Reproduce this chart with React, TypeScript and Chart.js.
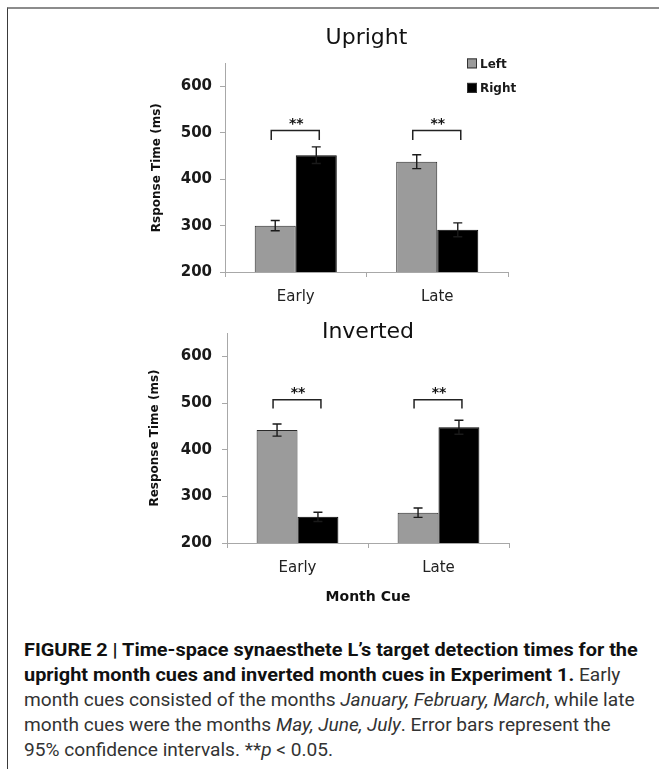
import React, { useEffect, useRef } from 'react';
import { Chart, registerables } from 'chart.js';

Chart.register(...registerables);

// ---------- data ----------
const categories = ['Early', 'Late'];
const seriesNames = ['Left', 'Right'];
const yTickValues = [200, 300, 400, 500, 600];
const yMin = 200;
const yMax = 650;
const sigMarks = ['**', '**'];

const uprightLeft = [300, 438];
const uprightRight = [452, 291];
const uprightLeftCI = [11, 15];
const uprightRightCI = [18, 15];
const uprightBracket = [505, 485]; // bracket bar level, leg end level

const invertedLeft = [442, 265];
const invertedRight = [256, 448];
const invertedLeftCI = [13, 10];
const invertedRightCI = [10, 15];
const invertedBracket = [507, 488];

const FONT = "'DejaVu Sans', Verdana, sans-serif";
const LEFT_COLOR = '#9b9b9b';
const RIGHT_COLOR = '#000000';

const overlayPlugin = {
  id: 'overlay',
  afterDatasetsDraw(chart: any, _args: any, opts: any) {
    const { ctx, chartArea } = chart;
    const ys = chart.scales.y;
    ctx.save();
    // error bars
    chart.data.datasets.forEach((ds: any, di: number) => {
      const meta = chart.getDatasetMeta(di);
      const errs = opts.errors[di];
      meta.data.forEach((bar: any, i: number) => {
        const v = ds.data[i];
        const e = errs[i];
        const x = bar.x;
        const yT = ys.getPixelForValue(v + e);
        const yB = ys.getPixelForValue(v - e);
        ctx.strokeStyle = '#1a1a1a';
        ctx.lineWidth = 1.4;
        ctx.beginPath();
        ctx.moveTo(x, yT);
        ctx.lineTo(x, yB);
        ctx.moveTo(x - 4.5, yT);
        ctx.lineTo(x + 4.5, yT);
        ctx.moveTo(x - 4.5, yB);
        ctx.lineTo(x + 4.5, yB);
        ctx.stroke();
      });
    });
    // significance brackets
    const m0 = chart.getDatasetMeta(0);
    const m1 = chart.getDatasetMeta(1);
    categories.forEach((_c, i) => {
      const x0 = m0.data[i].x - 4;
      const x1 = m1.data[i].x + 3;
      const yTop = ys.getPixelForValue(opts.bracket[0]);
      const yLeg = ys.getPixelForValue(opts.bracket[1]);
      ctx.strokeStyle = '#222';
      ctx.lineWidth = 1.5;
      ctx.beginPath();
      ctx.moveTo(x0, yLeg);
      ctx.lineTo(x0, yTop);
      ctx.lineTo(x1, yTop);
      ctx.lineTo(x1, yLeg);
      ctx.stroke();
      ctx.fillStyle = '#111';
      ctx.font = `bold 14px ${FONT}`;
      ctx.textAlign = 'center';
      ctx.textBaseline = 'middle';
      ctx.fillText(sigMarks[i], (x0 + x1) / 2 + 1, yTop - 6);
    });
    // legend
    if (opts.legend) {
      chart.data.datasets.forEach((ds: any, di: number) => {
        const sx = chartArea.right - 41;
        const cy = chartArea.top + di * 24.5;
        ctx.fillStyle = ds.backgroundColor;
        ctx.fillRect(sx, cy - 5, 10, 10);
        ctx.strokeStyle = '#333';
        ctx.lineWidth = 1;
        ctx.strokeRect(sx + 0.5, cy - 4.5, 9, 9);
        ctx.fillStyle = '#1a1a1a';
        ctx.font = `bold 12px ${FONT}`;
        ctx.textAlign = 'left';
        ctx.textBaseline = 'middle';
        ctx.fillText(ds.label, sx + 13, cy + 1);
      });
    }
    ctx.restore();
  },
};

type PanelCfg = {
  title: string;
  left: number[];
  right: number[];
  leftCI: number[];
  rightCI: number[];
  bracket: number[];
  yTitle: string;
  xTitle: string;
  legend: boolean;
  pos: { left: number; top: number; w: number; h: number };
  pad: { left: number; right: number; top: number; bottom: number };
  yWidth: number;
  xHeight: number;
  yTickPad: number;
  titlePad: { top: number; bottom: number };
  xTitlePad: { top: number; bottom: number };
};

function buildConfig(p: PanelCfg): any {
  return {
    type: 'bar',
    data: {
      labels: categories,
      datasets: [
        {
          label: seriesNames[0],
          data: p.left,
          backgroundColor: LEFT_COLOR,
          borderColor: '#2a2a2a',
          borderWidth: 1,
          categoryPercentage: 0.58,
          barPercentage: 1,
        },
        {
          label: seriesNames[1],
          data: p.right,
          backgroundColor: RIGHT_COLOR,
          borderColor: '#000',
          borderWidth: 1,
          categoryPercentage: 0.58,
          barPercentage: 1,
        },
      ],
    },
    options: {
      responsive: false,
      maintainAspectRatio: false,
      animation: false,
      events: [],
      layout: { padding: p.pad },
      plugins: {
        legend: { display: false },
        tooltip: { enabled: false },
        title: {
          display: true,
          text: p.title,
          fullSize: false,
          color: '#111',
          font: { family: FONT, size: 22, weight: 'normal' },
          padding: p.titlePad,
        },
        overlay: {
          errors: [p.leftCI, p.rightCI],
          bracket: p.bracket,
          legend: p.legend,
        },
      },
      scales: {
        x: {
          afterFit: (s: any) => {
            s.height = p.xHeight;
          },
          grid: {
            drawOnChartArea: false,
            drawTicks: true,
            tickLength: 5,
            color: '#a8a8a8',
            offset: true,
          },
          border: { color: '#a8a8a8', width: 1 },
          ticks: {
            color: '#222',
            padding: 11,
            font: { family: FONT, size: 15, weight: 'normal' },
          },
          title: {
            display: !!p.xTitle,
            text: p.xTitle,
            color: '#111',
            font: { family: FONT, size: 14, weight: 'bold' },
            padding: p.xTitlePad,
          },
        },
        y: {
          min: yMin,
          max: yMax,
          afterBuildTicks: (s: any) => {
            s.ticks = yTickValues.map((v) => ({ value: v }));
          },
          afterFit: (s: any) => {
            s.width = p.yWidth;
          },
          grid: {
            drawOnChartArea: false,
            drawTicks: true,
            tickLength: 5,
            color: '#a8a8a8',
          },
          border: { color: '#a8a8a8', width: 1 },
          ticks: {
            color: '#1a1a1a',
            padding: p.yTickPad,
            font: { family: FONT, size: 15, weight: 'bold' },
          },
          title: {
            display: true,
            text: p.yTitle,
            color: '#111',
            font: { family: FONT, size: 12, weight: 'bold' },
            padding: 0,
          },
        },
      },
    },
    plugins: [overlayPlugin],
  };
}

function Panel({ cfg }: { cfg: PanelCfg }) {
  const ref = useRef<HTMLCanvasElement>(null);
  useEffect(() => {
    const chart = new Chart(ref.current as HTMLCanvasElement, buildConfig(cfg));
    return () => chart.destroy();
  }, [cfg]);
  return (
    <canvas
      ref={ref}
      width={cfg.pos.w}
      height={cfg.pos.h}
      style={{
        position: 'absolute',
        left: cfg.pos.left,
        top: cfg.pos.top,
        width: cfg.pos.w,
        height: cfg.pos.h,
      }}
    />
  );
}

const uprightCfg: PanelCfg = {
  title: 'Upright',
  left: uprightLeft,
  right: uprightRight,
  leftCI: uprightLeftCI,
  rightCI: uprightRightCI,
  bracket: uprightBracket,
  yTitle: 'Rsponse Time (ms)',
  xTitle: '',
  legend: true,
  pos: { left: 100, top: 15, w: 540, h: 295 },
  pad: { left: 50, right: 132, top: 0, bottom: 5 },
  yWidth: 75,
  xHeight: 33,
  yTickPad: 8,
  titlePad: { top: 10, bottom: 12 },
  xTitlePad: { top: 0, bottom: 0 },
};

const invertedCfg: PanelCfg = {
  title: 'Inverted',
  left: invertedLeft,
  right: invertedRight,
  leftCI: invertedLeftCI,
  rightCI: invertedRightCI,
  bracket: invertedBracket,
  yTitle: 'Response Time (ms)',
  xTitle: 'Month Cue',
  legend: false,
  pos: { left: 100, top: 314, w: 540, h: 296 },
  pad: { left: 48, right: 131, top: 0, bottom: 0 },
  yWidth: 79,
  xHeight: 67,
  yTickPad: 10,
  titlePad: { top: 4.8, bottom: -12.2 },
  xTitlePad: { top: 0, bottom: 4.6 },
};

const CAP_FONT = "'Roboto', 'Liberation Sans', sans-serif";

export default function App() {
  const lineStyle: React.CSSProperties = {
    height: 25,
    lineHeight: '25px',
    whiteSpace: 'nowrap',
    fontSize: 17.8,
  };
  const boldStyle: React.CSSProperties = { fontWeight: 'bold', color: '#111', fontSize: 18.5 };
  return (
    <div
      style={{
        position: 'absolute',
        left: 0,
        top: 0,
        width: 659,
        height: 769,
        overflow: 'hidden',
        background: '#fff',
      }}
    >
      <div
        style={{
          position: 'absolute',
          left: 7,
          top: 7,
          right: 0,
          bottom: 0,
          borderTop: '2px solid #8c8c8c',
          borderLeft: '1px solid #3a3a3a',
        }}
      />
      <Panel cfg={uprightCfg} />
      <Panel cfg={invertedCfg} />
      <div
        style={{
          position: 'absolute',
          left: 24,
          top: 637,
          fontFamily: CAP_FONT,
          color: '#333',
          transform: 'scaleX(1.075)',
          transformOrigin: '0 0',
        }}
      >
        <div style={lineStyle}>
          <span style={boldStyle}>
            FIGURE 2 | Time-space synaesthete L’s target detection times for the
          </span>
        </div>
        <div style={lineStyle}>
          <span style={boldStyle}>
            upright month cues and inverted month cues in Experiment 1.
          </span>{' '}
          Early
        </div>
        <div style={lineStyle}>
          month cues consisted of the months <i>January, February, March</i>, while late
        </div>
        <div style={lineStyle}>
          month cues were the months <i>May, June, July</i>. Error bars represent the
        </div>
        <div style={lineStyle}>
          95% confidence intervals. **<i>p</i> &lt; 0.05.
        </div>
      </div>
    </div>
  );
}
